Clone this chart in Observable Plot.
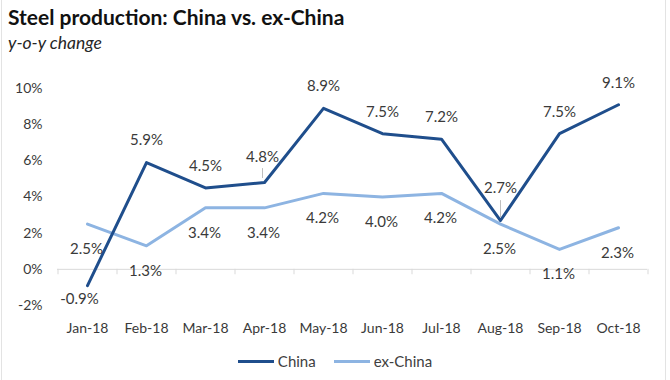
<!DOCTYPE html>
<html>
<head>
<meta charset="utf-8">
<script src="https://cdn.jsdelivr.net/npm/d3@7"></script>
<script src="https://cdn.jsdelivr.net/npm/@observablehq/plot@0.6"></script>
<style>
  html, body { margin: 0; padding: 0; background: #fff; }
  body { width: 670px; height: 380px; position: relative; overflow: hidden; font-family: Lato, "Open Sans", sans-serif; }
  #frame { position: absolute; left: 1px; top: 0; width: 665px; height: 380px; border-left: 1px solid #e3e3e3; border-right: 1px solid #e3e3e3; box-sizing: border-box; pointer-events: none; }
  #title { position: absolute; left: 8px; top: 4px; font-size: 21px; font-weight: bold; color: #111; white-space: nowrap; }
  #subtitle { position: absolute; left: 8px; top: 32px; font-size: 17.5px; font-style: italic; color: #262626; white-space: nowrap; }
  #chart { position: absolute; left: 0; top: 60px; }
  #legend { position: absolute; left: 0; top: 352px; width: 670px; display: flex; justify-content: center; align-items: center; font-size: 15px; color: #404040; }
  .item { display: flex; align-items: center; margin: 0 9px; }
  .sw { width: 36px; height: 3px; margin-right: 4px; }
</style>
</head>
<body>
<div id="frame"></div>
<div id="title">Steel production: China vs. ex-China</div>
<div id="subtitle">y-o-y change</div>
<div id="chart"></div>
<div id="legend"></div>
<script>
const months = ["Jan-18","Feb-18","Mar-18","Apr-18","May-18","Jun-18","Jul-18","Aug-18","Sep-18","Oct-18"];
const china = [-0.9, 5.9, 4.5, 4.8, 8.9, 7.5, 7.2, 2.7, 7.5, 9.1];
const exChina = [2.5, 1.3, 3.4, 3.4, 4.2, 4.0, 4.2, 2.5, 1.1, 2.3];
const yTicks = [-2, 0, 2, 4, 6, 8, 10];
const seriesNames = ["China", "ex-China"];
const seriesColors = ["#1f4e8c", "#8db4e2"];

const rows = [];
months.forEach((m, i) => {
  rows.push({month: m, series: seriesNames[0], value: china[i], i});
  rows.push({month: m, series: seriesNames[1], value: exChina[i], i});
});
const chinaRows = rows.filter(d => d.series === "China");
const exRows = rows.filter(d => d.series === "ex-China");
const fmt = v => v.toFixed(1) + "%";
const step = 59;
const labelSize = 15;
const ink = "#3a3a3a";

const chart = Plot.plot({
  width: 670,
  height: 285,
  marginLeft: 57,
  marginRight: 23,
  marginTop: 28,
  marginBottom: 40,
  style: {fontFamily: "Lato, 'Open Sans', sans-serif", fontSize: "14px", color: ink, background: "transparent"},
  x: {type: "point", domain: months, padding: 0.5, label: null},
  y: {domain: [-2, 10], label: null},
  color: {domain: seriesNames, range: seriesColors},
  marks: [
    Plot.axisY({ticks: yTicks, tickSize: 0, tickPadding: 15, tickFormat: d => d + "%", fontSize: 14, fill: ink}),
    Plot.axisX({tickSize: 0, tickPadding: 18, fontSize: 14, fill: ink}),
    Plot.ruleY([0], {stroke: "#d9d9d9", strokeWidth: 1}),
    Plot.ruleX(months, {x: d => d, y1: 0, y2: -0.3, dx: -step / 2, stroke: "#d9d9d9"}),
    Plot.ruleX(months.slice(-1), {x: d => d, y1: 0, y2: -0.3, dx: step / 2, stroke: "#d9d9d9"}),
    Plot.line(exRows, {x: "month", y: "value", stroke: seriesColors[1], strokeWidth: 3}),
    Plot.line(chinaRows, {x: "month", y: "value", stroke: seriesColors[0], strokeWidth: 3}),
    // leader line for Aug China label
    Plot.ruleX(chinaRows.filter(d => d.month === "Aug-18"), {x: "month", y1: d => d.value + 0.15, y2: d => d.value + 1.1, stroke: "#bfbfbf", strokeWidth: 1}),
    // leader line for Apr China label
    Plot.link(chinaRows.filter(d => d.month === "Apr-18"), {x1: "month", x2: "month", y1: d => d.value + 0.25, y2: d => d.value + 0.8, dx: -2, stroke: "#bfbfbf", strokeWidth: 1}),
    // China labels
    Plot.text(chinaRows.filter(d => d.value >= 0 && d.month !== "Aug-18" && d.month !== "Apr-18"), {x: "month", y: "value", text: d => fmt(d.value), dy: -22, fontSize: labelSize, fill: ink}),
    Plot.text(chinaRows.filter(d => d.month === "Apr-18"), {x: "month", y: "value", text: d => fmt(d.value), dy: -25, dx: -2, fontSize: labelSize, fill: ink}),
    Plot.text(chinaRows.filter(d => d.month === "Aug-18"), {x: "month", y: "value", text: d => fmt(d.value), dy: -32, fontSize: labelSize, fill: ink}),
    Plot.text(chinaRows.filter(d => d.value < 0), {x: "month", y: "value", text: d => fmt(d.value), dy: 14, dx: -8, fontSize: labelSize, fill: ink}),
    // ex-China labels
    Plot.text(exRows, {x: "month", y: "value", text: d => fmt(d.value), dy: 25, dx: -1, fontSize: labelSize, fill: ink})
  ]
});
document.getElementById("chart").appendChild(chart);

const legend = document.getElementById("legend");
seriesNames.forEach((n, i) => {
  const it = document.createElement("div");
  it.className = "item";
  const sw = document.createElement("div");
  sw.className = "sw";
  sw.style.background = seriesColors[i];
  const lb = document.createElement("span");
  lb.textContent = n;
  it.appendChild(sw); it.appendChild(lb);
  legend.appendChild(it);
});
</script>
</body>
</html>
